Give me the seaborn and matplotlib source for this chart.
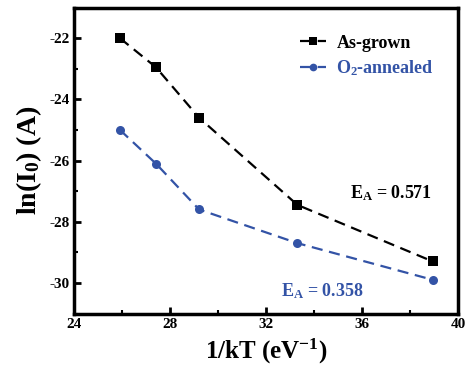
import numpy as np
import pandas as pd
import matplotlib
import matplotlib.pyplot as plt
from matplotlib.ticker import MultipleLocator
import seaborn as sns

# data
inv_kT = [25.9, 27.4, 29.2, 33.3, 38.95]
ln_i0_as_grown = [-22.0, -22.95, -24.6, -27.45, -29.3]
ln_i0_annealed = [-25.0, -26.1, -27.6, -28.7, -29.9]
series_names = ["As-grown", "O$_2$-annealed"]
ea_labels = ["0.571", "0.358"]

sns.set_style("ticks")
plt.rcParams["font.family"] = ["Liberation Serif", "DejaVu Serif"]
plt.rcParams["font.weight"] = "bold"
plt.rcParams["axes.unicode_minus"] = False
plt.rcParams["mathtext.fontset"] = "custom"
plt.rcParams["mathtext.rm"] = "Liberation Serif:bold"
plt.rcParams["mathtext.it"] = "Liberation Serif:bold"
plt.rcParams["mathtext.bf"] = "Liberation Serif:bold"

df = pd.DataFrame({
    "x": inv_kT * 2,
    "y": ln_i0_as_grown + ln_i0_annealed,
    "sample": [series_names[0]] * len(inv_kT) + [series_names[1]] * len(inv_kT),
})

black = "#000000"
blue = "#3353a6"

fig, ax = plt.subplots(figsize=(4.65, 3.8), dpi=100)
fig.subplots_adjust(left=0.16, right=0.985, top=0.98, bottom=0.175)

sns.lineplot(data=df, x="x", y="y", hue="sample", style="sample",
             palette=[black, blue], markers=["s", "o"], dashes=[(5, 3), (5, 3)],
             markersize=6.5, markeredgewidth=0, linewidth=1.6, ax=ax)

ax.set_xlim(24, 40)
ax.set_ylim(-31, -21)
ax.xaxis.set_major_locator(MultipleLocator(4))
ax.xaxis.set_minor_locator(MultipleLocator(2))
ax.yaxis.set_major_locator(MultipleLocator(2))
ax.yaxis.set_minor_locator(MultipleLocator(1))
ax.tick_params(which="major", direction="in", length=5, width=2, labelsize=11,
               color="black", labelcolor="black")
ax.tick_params(which="minor", direction="in", length=3, width=1.5, color="black")
for s in ax.spines.values():
    s.set_linewidth(2.5)
    s.set_color("black")
    s.set_visible(True)

ax.set_xlabel("1/kT (eV$^{-1}$)", fontsize=18, fontweight="bold", color="black")
ax.set_ylabel("ln(I$_0$) (A)", fontsize=20, fontweight="bold", color="black")

ax.text(35.5, -27.25, "E$_\\mathrm{A}$ = " + ea_labels[0], color=black, fontsize=13, fontweight="bold")
ax.text(32.6, -30.45, "E$_\\mathrm{A}$ = " + ea_labels[1], color=blue, fontsize=13, fontweight="bold")

leg = ax.legend(loc="upper right", frameon=False, fontsize=13, handlelength=1.4,
                markerscale=0.85, bbox_to_anchor=(0.98, 0.965), labelspacing=0.4,
                handletextpad=0.6)
for t, c in zip(leg.get_texts(), [black, blue]):
    t.set_color(c)
    t.set_fontweight("bold")

plt.savefig("out.png", dpi=100)
